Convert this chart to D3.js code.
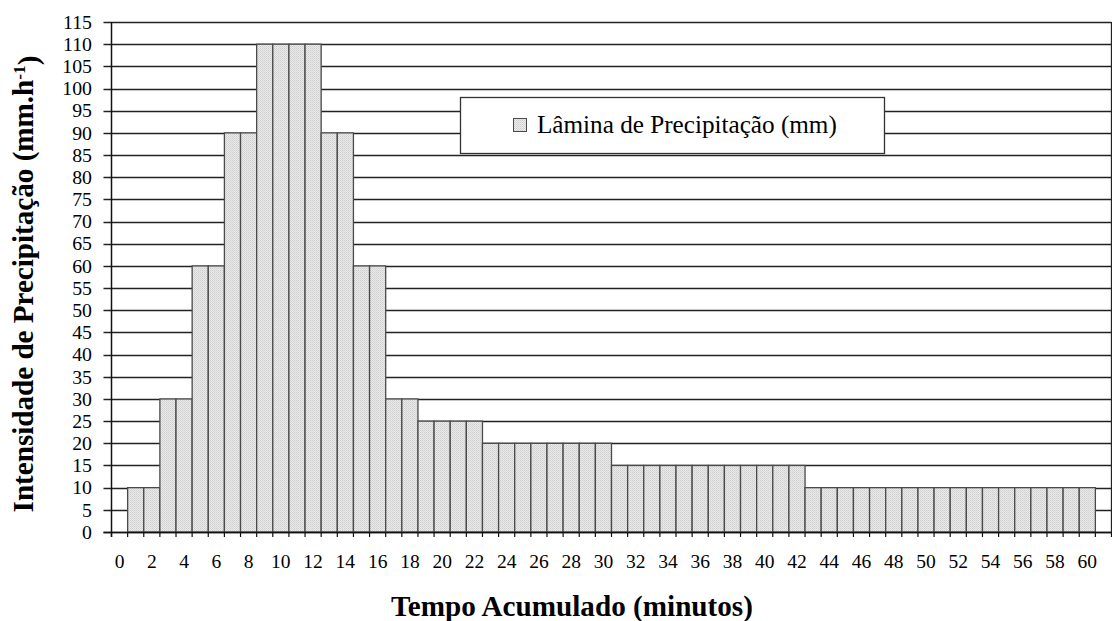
<!DOCTYPE html>
<html>
<head>
<meta charset="utf-8">
<script src="https://cdn.jsdelivr.net/npm/d3@7"></script>
<style>
  html, body { margin: 0; padding: 0; background: #fff; }
  svg { display: block; }
</style>
</head>
<body>
<svg id="chart" width="1112" height="621"></svg>
<script>
// ---- data ----
const minutes = [1,2,3,4,5,6,7,8,9,10,11,12,13,14,15,16,17,18,19,20,
                 21,22,23,24,25,26,27,28,29,30,31,32,33,34,35,36,37,38,39,40,
                 41,42,43,44,45,46,47,48,49,50,51,52,53,54,55,56,57,58,59,60];
const intensity = [10,10,30,30,60,60,90,90,110,110,110,110,90,90,60,60,30,30,25,25,
                   25,25,20,20,20,20,20,20,20,20,15,15,15,15,15,15,15,15,15,15,
                   15,15,10,10,10,10,10,10,10,10,10,10,10,10,10,10,10,10,10,10];
const xTickLabels = [0,2,4,6,8,10,12,14,16,18,20,22,24,26,28,30,32,34,36,38,40,42,44,46,48,50,52,54,56,58,60];
const yTickValues = [0,5,10,15,20,25,30,35,40,45,50,55,60,65,70,75,80,85,90,95,100,105,110,115];
const seriesName = "Lâmina de Precipitação (mm)";
const xTitle = "Tempo Acumulado (minutos)";
const yTitleMain = "Intensidade de Precipitação (mm.h";
const yTitleSup = "-1";
const yTitleEnd = ")";

const FONT = "'Liberation Serif', 'Times New Roman', 'DejaVu Serif', serif";

// ---- layout ----
const svg = d3.select("#chart").attr("font-family", FONT);
const L = 111.5, R = 1111.5, T = 22, B = 532;

const x = d3.scaleBand().domain([0, ...minutes, 61]).range([L, R]).paddingInner(0).paddingOuter(0);
const y = d3.scaleLinear().domain([0, 115]).range([B, T]);

// pattern fill
const defs = svg.append("defs");
const pat = defs.append("pattern").attr("id", "dots").attr("patternUnits", "userSpaceOnUse")
  .attr("width", 2).attr("height", 2);
pat.append("rect").attr("width", 2).attr("height", 2).attr("fill", "#e9e9e9");
pat.append("rect").attr("width", 1).attr("height", 1).attr("fill", "#cfcfcf");
pat.append("rect").attr("x", 1).attr("y", 1).attr("width", 1).attr("height", 1).attr("fill", "#d9d9d9");

function fitX(sel, target, ax) {
  sel.each(function() {
    const w = this.getComputedTextLength();
    const s = target / w;
    d3.select(this).attr("transform", `translate(${ax},0) scale(${s},1) translate(${-ax},0)`);
  });
}

// gridlines (with left tick extension)
svg.append("g").selectAll("line").data(yTickValues).join("line")
  .attr("x1", L - 8).attr("x2", R)
  .attr("y1", d => Math.round(y(d)) + 0.5).attr("y2", d => Math.round(y(d)) + 0.5)
  .attr("stroke", "#222").attr("stroke-width", 1.3);

// y tick labels
svg.append("g").selectAll("text").data(yTickValues).join("text")
  .attr("x", 92).attr("y", d => y(d))
  .attr("dy", "0.34em")
  .attr("text-anchor", "end")
  .attr("font-family", FONT)
  .style("font-size", "19.8px")
  .text(d => d);

// bars
svg.append("g").selectAll("rect").data(minutes).join("rect")
  .attr("x", d => x(d))
  .attr("y", (d, i) => y(intensity[i]))
  .attr("width", x.bandwidth())
  .attr("height", (d, i) => B - y(intensity[i]))
  .attr("fill", "url(#dots)")
  .attr("stroke", "#4a4a4a")
  .attr("stroke-width", 1.3);

// axes lines
svg.append("line").attr("x1", L).attr("x2", L).attr("y1", T).attr("y2", B + 5)
  .attr("stroke", "#111").attr("stroke-width", 1.5);
svg.append("line").attr("x1", R).attr("x2", R).attr("y1", T).attr("y2", B)
  .attr("stroke", "#222").attr("stroke-width", 1.3);
svg.append("line").attr("x1", L - 8).attr("x2", R).attr("y1", B + 0.5).attr("y2", B + 0.5)
  .attr("stroke", "#111").attr("stroke-width", 1.5);

// x tick marks at band boundaries
const bounds = [0, ...minutes, 61].map(d => x(d)).concat([R]);
svg.append("g").selectAll("line").data(bounds).join("line")
  .attr("x1", d => d).attr("x2", d => d)
  .attr("y1", B).attr("y2", B + 5)
  .attr("stroke", "#111").attr("stroke-width", 1.2);

// x tick labels
svg.append("g").selectAll("text").data(xTickLabels).join("text")
  .attr("x", d => x(d) + x.bandwidth() / 2)
  .attr("y", 568)
  .attr("text-anchor", "middle")
  .attr("font-family", FONT)
  .style("font-size", "19.5px")
  .text(d => d);

// x title
const xt = svg.append("text")
  .attr("x", 572).attr("y", 616)
  .attr("text-anchor", "middle")
  .attr("font-family", FONT)
  .style("font-size", "29px").style("font-weight", "bold")
  .text(xTitle);
fitX(xt, 362, 572);

// y title (rotated)
const ytG = svg.append("g").attr("transform", "translate(33,284) rotate(-90)");
const yt = ytG.append("text")
  .attr("x", 0).attr("y", 0)
  .attr("text-anchor", "middle")
  .attr("font-family", FONT)
  .style("font-size", "28.5px").style("font-weight", "bold");
yt.append("tspan").text(yTitleMain);
yt.append("tspan").attr("dy", "-0.45em").style("font-size", "17px").text(yTitleSup);
yt.append("tspan").attr("dy", "0.45em").text(yTitleEnd);
{
  const w = yt.node().getComputedTextLength();
  yt.attr("transform", `scale(${457 / w},1)`);
}

// legend
const lg = svg.append("g");
lg.append("rect").attr("x", 460.5).attr("y", 97.5).attr("width", 424).attr("height", 56)
  .attr("fill", "#fff").attr("stroke", "#333").attr("stroke-width", 1.3);
lg.append("rect").attr("x", 513.5).attr("y", 118.5).attr("width", 13).attr("height", 13)
  .attr("fill", "url(#dots)").attr("stroke", "#4a4a4a").attr("stroke-width", 1);
const lt = lg.append("text").attr("x", 537).attr("y", 133)
  .attr("font-family", FONT)
  .style("font-size", "25px").text(seriesName);
fitX(lt, 300, 537);
</script>
</body>
</html>
